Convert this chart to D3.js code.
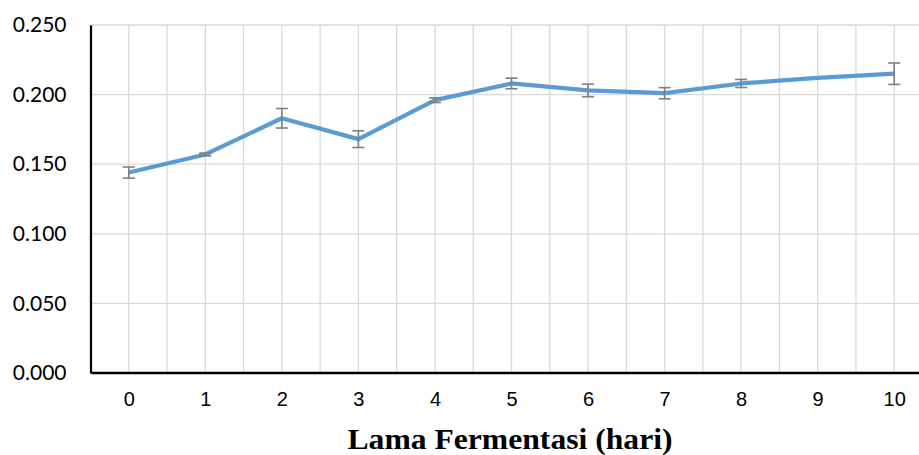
<!DOCTYPE html>
<html>
<head>
<meta charset="utf-8">
<script src="https://cdn.jsdelivr.net/npm/d3@7"></script>
<style>
  body { margin: 0; background: #fff; }
  svg { display: block; }
</style>
</head>
<body>
<svg width="919" height="455"></svg>
<script>
//	data
var days = [0, 1, 2, 3, 4, 5, 6, 7, 8, 9, 10];
var values = [0.144, 0.157, 0.183, 0.168, 0.196, 0.208, 0.203, 0.201, 0.208, 0.212, 0.215];
var errors = [0.004, 0.001, 0.007, 0.006, 0.0017, 0.0038, 0.0045, 0.004, 0.0029, 0, 0.0077];
var yTicks = [0, 0.05, 0.1, 0.15, 0.2, 0.25];
var xTitle = "Lama Fermentasi (hari)";

var svg = d3.select("svg"),
        width = +svg.attr("width"),
        height = +svg.attr("height");

//	scales
var x = d3.scaleLinear().domain([-0.5, 10.5]).range([90.5, 932.5]);
var y = d3.scaleLinear().domain([0, 0.25]).range([373, 25]);

var points = days.map(function (d, i) {
    return {day: d, value: values[i], err: errors[i]};
});

//	gridlines
var grid = svg.append("g");
grid.selectAll(".hgrid").data(yTicks).enter().append("line")
        .attr("x1", x(-0.5)).attr("x2", width)
        .attr("y1", function (d) { return y(d); })
        .attr("y2", function (d) { return y(d); })
        .attr("stroke", "#d9d9d9").attr("stroke-width", 1.3);
grid.selectAll(".vgrid").data(d3.range(-0.5, 10.6, 0.5)).enter().append("line")
        .attr("x1", function (d) { return x(d); })
        .attr("x2", function (d) { return x(d); })
        .attr("y1", y(0.25)).attr("y2", y(0))
        .attr("stroke", "#d9d9d9").attr("stroke-width", 1.3);

//	axes
var yAxis = svg.append("g")
        .attr("transform", "translate(" + x(-0.5) + ",0)")
        .call(d3.axisLeft(y).tickValues(yTicks).tickFormat(d3.format(".3f")).tickSize(0).tickPadding(24));
yAxis.select(".domain").attr("stroke", "#000").attr("stroke-width", 2.2);
yAxis.selectAll("text").attr("font-family", "Lato, 'Liberation Sans', sans-serif")
        .attr("font-size", 21).attr("fill", "#000");

var xAxis = svg.append("g")
        .attr("transform", "translate(0," + y(0) + ")")
        .call(d3.axisBottom(x).tickValues(days).tickFormat(d3.format("d")).tickSize(0).tickPadding(19));
xAxis.select(".domain").attr("d", "M" + (x(-0.5) + 1) + ",0H" + width)
        .attr("stroke", "#000").attr("stroke-width", 2.5);
xAxis.selectAll("text").attr("font-family", "'Liberation Sans', Arial, sans-serif")
        .attr("font-size", 20).attr("fill", "#000");

//	line
var line = d3.line()
        .x(function (d) { return x(d.day); })
        .y(function (d) { return y(d.value); });
svg.append("path").datum(points)
        .attr("d", line)
        .attr("fill", "none")
        .attr("stroke", "#5b9bd5")
        .attr("stroke-width", 4.2)
        .attr("stroke-linejoin", "round");

//	error bars
var eb = svg.append("g").attr("stroke", "#7f7f7f").attr("stroke-width", 1.6)
        .selectAll("g").data(points.filter(function (d) { return d.err > 0; })).enter().append("g");
eb.append("line")
        .attr("x1", function (d) { return x(d.day); })
        .attr("x2", function (d) { return x(d.day); })
        .attr("y1", function (d) { return y(d.value + d.err); })
        .attr("y2", function (d) { return y(d.value - d.err); });
[1, -1].forEach(function (s) {
    eb.append("line")
            .attr("x1", function (d) { return x(d.day) - 6; })
            .attr("x2", function (d) { return x(d.day) + 6; })
            .attr("y1", function (d) { return y(d.value + s * d.err); })
            .attr("y2", function (d) { return y(d.value + s * d.err); });
});

//	title
svg.append("text")
        .attr("x", 510).attr("y", 449)
        .attr("text-anchor", "middle")
        .attr("font-family", "'Liberation Serif', 'Times New Roman', serif")
        .attr("font-weight", "bold")
        .attr("font-size", 29)
        .attr("textLength", 325)
        .attr("lengthAdjust", "spacingAndGlyphs")
        .text(xTitle);
</script>
</body>
</html>
